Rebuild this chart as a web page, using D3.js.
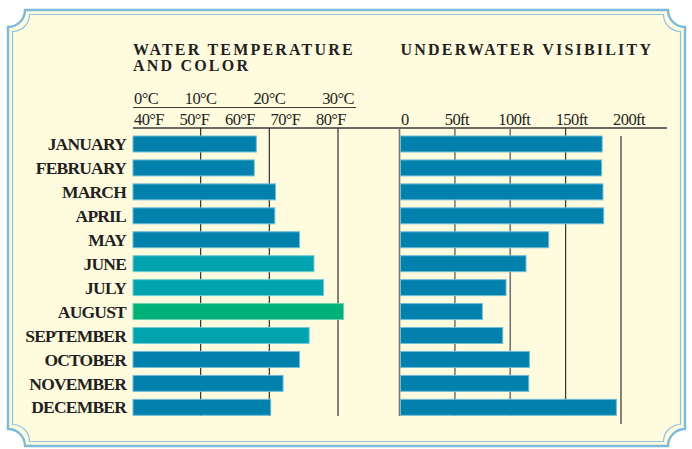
<!DOCTYPE html>
<html><head><meta charset="utf-8">
<script src="https://cdn.jsdelivr.net/npm/d3@7"></script>
<style>html,body{margin:0;padding:0;background:#fff;}svg{display:block;}</style>
</head><body>
<script>
const months = ["JANUARY","FEBRUARY","MARCH","APRIL","MAY","JUNE","JULY","AUGUST","SEPTEMBER","OCTOBER","NOVEMBER","DECEMBER"];
const tempC = [18.1, 17.8, 20.9, 20.8, 24.4, 26.5, 27.9, 30.8, 25.8, 24.4, 22.0, 20.2];
const colorClass = ["cool","cool","cool","cool","cool","warm","warm","hot","warm","cool","cool","cool"];
const visibilityFt = [183, 182.5, 183.7, 184.4, 134.7, 114.2, 96.2, 74.8, 93.2, 117.3, 116.7, 195.8];
const celsiusTicks = [0, 10, 20, 30];
const celsiusGrid = [10, 20, 30];
const fahrenheitTicks = [40, 50, 60, 70, 80];
const visTicks = [0, 50, 100, 150, 200];
const titles = ["WATER TEMPERATURE", "AND COLOR", "UNDERWATER VISIBILITY"];

const W = 692, H = 449;
const colors = {cool:"#0281ad", warm:"#02a3b0", hot:"#00b27a"};
const edge = {cool:"#6fbcd6", warm:"#72ccd2", hot:"#6fd2ae"};
const serif = "'Liberation Serif','DejaVu Serif',serif";

const svg = d3.select("body").append("svg").attr("width", W).attr("height", H);

// frame
function framePath(x0,y0,x1,y1,r){
  return `M${x0+r},${y0} L${x1-r},${y0} A${r},${r} 0 0 0 ${x1},${y0+r} L${x1},${y1-r} A${r},${r} 0 0 0 ${x1-r},${y1} L${x0+r},${y1} A${r},${r} 0 0 0 ${x0},${y1-r} L${x0},${y0+r} A${r},${r} 0 0 0 ${x0+r},${y0} Z`;
}
svg.append("path").attr("d", framePath(8,10,685,446,17)).attr("fill","#fffbdf").attr("stroke","#7db9d8").attr("stroke-width",2.4);
svg.append("path").attr("d", framePath(12.5,14.5,680.5,441.5,17)).attr("fill","none").attr("stroke","#8ec3de").attr("stroke-width",1.2);

const y = d3.scaleBand().domain(months).range([132, 419.3]).paddingInner(0.333).paddingOuter(0.167);
const xT = d3.scaleLinear().domain([0, 30]).range([132, 338]);
const xF = d3.scaleLinear().domain([40, 80]).range([134, 316]);
const xV = d3.scaleLinear().domain([0, 200]).range([399.5, 621]);

// titles
const tg = svg.append("g").attr("font-family", serif).attr("font-weight","bold").attr("font-size",16).attr("letter-spacing","2.2px").attr("fill","#231f20");
tg.append("text").attr("x", xT(0)+1).attr("y", 55).text(titles[0]);
tg.append("text").attr("x", xT(0)+1).attr("y", 71).text(titles[1]);
tg.append("text").attr("x", xV(0)+1).attr("y", 55).text(titles[2]);

// celsius axis
const axisColor = "#3a3a3a";
svg.append("line").attr("x1", xT(0)+1).attr("x2", 356).attr("y1",107.5).attr("y2",107.5).attr("stroke",axisColor).attr("stroke-width",1.2);
const lab = svg.append("g").attr("font-family", serif).attr("font-size",16.5).attr("fill","#231f20").attr("letter-spacing","-0.6px");
lab.selectAll("text.c").data(celsiusTicks).join("text").attr("class","c")
  .attr("x", d => d === 0 ? xT(d)+2 : xT(d))
  .attr("text-anchor", d => d === 0 ? "start" : "middle")
  .attr("y", 104).text(d => d + "°C");
lab.selectAll("text.f").data(fahrenheitTicks).join("text").attr("class","f")
  .attr("x", d => xF(d)).attr("y", 125).text(d => d + "°F");
lab.selectAll("text.v").data(visTicks).join("text").attr("class","v")
  .attr("x", d => d === 0 ? xV(d)+1.5 : xV(d) + d/200*8)
  .attr("text-anchor", d => d === 0 ? "start" : "middle")
  .attr("y", 125).text(d => d === 0 ? "0" : d + "ft");

// main axis line
svg.append("line").attr("x1", xT(0)+1).attr("x2", 667).attr("y1",128).attr("y2",128).attr("stroke",axisColor).attr("stroke-width",1.3);

// temperature grid
const gridBottom = 416;
svg.selectAll("line.tg").data(celsiusGrid).join("line").attr("class","tg")
  .attr("x1", d => xT(d)).attr("x2", d => xT(d)).attr("y1",128).attr("y2",gridBottom)
  .attr("stroke","#2f2f2f").attr("stroke-width",1.2);

// visibility grid
svg.selectAll("line.vg").data(visTicks.filter(d => d < 200)).join("line").attr("class","vg")
  .attr("x1", d => xV(d)).attr("x2", d => xV(d)).attr("y1",128).attr("y2",gridBottom)
  .attr("stroke", d => d === 150 ? "#333" : "#777").attr("stroke-width", d => d === 150 ? 1.2 : 1.6);
svg.selectAll("line.vg2").data(visTicks.filter(d => d === 200)).join("line").attr("class","vg2")
  .attr("x1", d => xV(d)).attr("x2", d => xV(d)).attr("y1",136).attr("y2",424)
  .attr("stroke","#333").attr("stroke-width",1.2);

// temperature bars
svg.selectAll("rect.t").data(months).join("rect").attr("class","t")
  .attr("x", xT(0)+1).attr("y", d => y(d)).attr("height", y.bandwidth())
  .attr("width", (d,i) => xT(tempC[i]) - xT(0) - 1)
  .attr("fill", (d,i) => colors[colorClass[i]])
  .attr("stroke", (d,i) => edge[colorClass[i]]).attr("stroke-width",1);

// visibility bars
svg.selectAll("rect.v").data(months).join("rect").attr("class","v")
  .attr("x", xV(0)+1).attr("y", d => y(d)).attr("height", y.bandwidth())
  .attr("width", (d,i) => xV(visibilityFt[i]) - xV(0) - 1)
  .attr("fill", colors.cool).attr("stroke", edge.cool).attr("stroke-width",1);

// month labels
svg.append("g").attr("font-family", serif).attr("font-weight","bold").attr("font-size",17.5).attr("fill","#231f20").attr("letter-spacing","-0.8px")
  .selectAll("text").data(months).join("text")
  .attr("x", 126).attr("y", d => y(d) + y.bandwidth()/2).attr("dy","0.35em")
  .attr("text-anchor","end").text(d => d);
</script>
</body></html>
